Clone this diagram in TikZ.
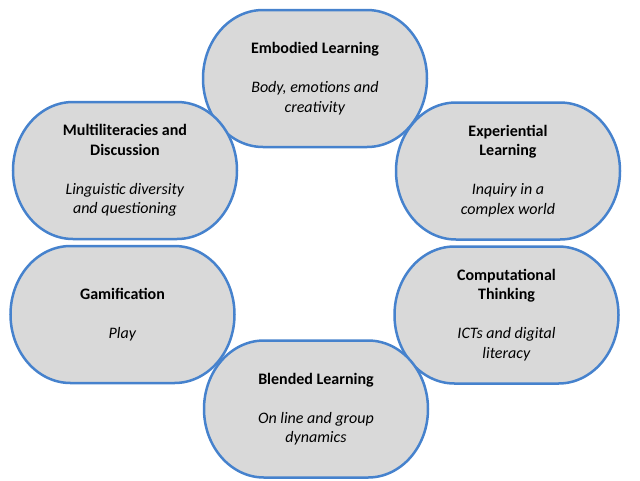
\documentclass[tikz,border=0pt]{standalone}
\usepackage{fontspec}
\setmainfont{Carlito}
\usetikzlibrary{backgrounds}
\definecolor{boxfill}{RGB}{217,217,217}
\definecolor{boxline}{RGB}{70,130,205}
\newcommand{\pillshape}[1]{%
  \begin{scope}[on background layer]
  \draw[pillline] (#1.center) ++(-52,68.5) -- ++(104,0)
    arc[start angle=90,end angle=-90,x radius=60,y radius=68.5]
    -- ++(-104,0)
    arc[start angle=270,end angle=90,x radius=60,y radius=68.5] -- cycle;
  \end{scope}}
\begin{document}
\begin{tikzpicture}[x=1pt,y=1pt,
  pillline/.style={draw=boxline, line width=2.5pt, fill=boxfill},
  txt/.style={align=center, inner sep=0pt, font=\fontsize{16}{19.5}\selectfont}]
\useasboundingbox (0,0) rectangle (640,-480);
\node[txt] (emb) at (315,-78.5) {\textbf{Embodied Learning}\\[19.5pt]\textit{Body, emotions and}\\\textit{creativity}};
\node[txt] (mul) at (125,-170.5) {\textbf{Multiliteracies and}\\\textbf{Discussion}\\[19.5pt]\textit{Linguistic diversity}\\\textit{and questioning}};
\node[txt] (exp) at (508,-171) {\textbf{Experiential}\\\textbf{Learning}\\[19.5pt]\textit{Inquiry in a}\\\textit{complex world}};
\node[txt] (gam) at (122.5,-314.5) {\textbf{Gamification}\\[19.5pt]\textit{Play}};
\node[txt] (com) at (506.5,-315) {\textbf{Computational}\\\textbf{Thinking}\\[19.5pt]\textit{ICTs and digital}\\\textit{literacy}};
\node[txt] (ble) at (316,-409) {\textbf{Blended Learning}\\[19.5pt]\textit{On line and group}\\\textit{dynamics}};
\pillshape{emb}
\pillshape{mul}
\pillshape{exp}
\pillshape{gam}
\pillshape{com}
\pillshape{ble}
\end{tikzpicture}
\end{document}
